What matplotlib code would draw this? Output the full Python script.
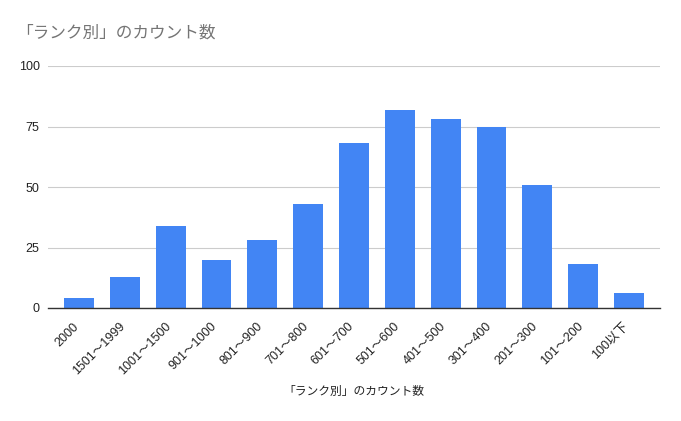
import matplotlib
matplotlib.use("Agg")
import matplotlib.pyplot as plt
from matplotlib.transforms import ScaledTranslation

plt.rcParams['font.family'] = ['Liberation Sans', 'Noto Sans CJK JP', 'DejaVu Sans']

categories = ["2000", "1501～1999", "1001～1500", "901～1000", "801～900", "701～800",
              "601～700", "501～600", "401～500", "301～400", "201～300", "101～200", "100以下"]
values = [4, 13, 34, 20, 28, 43, 68, 82, 78, 75, 51, 18, 6]
yticks = [0, 25, 50, 75, 100]
title = "「ランク別」のカウント数"
xlabel = "「ランク別」のカウント数"

W, H = 681, 421
fig = plt.figure(figsize=(W/100, H/100), dpi=100)
ax = fig.add_axes([48/W, 1-308/H, (660-48)/W, (308-66)/H])

x = list(range(len(categories)))
ax.bar(x, values, width=0.65, color="#4285F4", zorder=3)
ax.set_xlim(-0.68, len(categories)-1+0.68)
ax.set_ylim(0, 100)
ax.set_yticks(yticks)
ax.set_yticklabels([str(v) for v in yticks], fontsize=9, color="#222222")
ax.grid(axis='y', color="#cccccc", linewidth=0.8, zorder=0)
ax.tick_params(axis='y', length=0, pad=6)
ax.tick_params(axis='x', length=0, pad=9)
ax.set_xticks(x)
ax.set_xticklabels(categories, rotation=45, ha='right', rotation_mode='anchor', fontsize=9, color="#222222")
off = ScaledTranslation(-6/100, 0, fig.dpi_scale_trans)
for lbl in ax.get_xticklabels():
    lbl.set_transform(lbl.get_transform() + off)
for s in ['top', 'right', 'left']:
    ax.spines[s].set_visible(False)
ax.spines['bottom'].set_color("#333333")
ax.spines['bottom'].set_linewidth(1.0)
ax.spines['bottom'].set_zorder(4)

fig.text(16/W, 1-33/H, title, fontsize=12, color="#757575", va='center', ha='left')
fig.text(0.5*(48+660)/W, 1-392/H, xlabel, fontsize=8.5, color="#222222", va='center', ha='center')

fig.savefig("out.png", dpi=100)
